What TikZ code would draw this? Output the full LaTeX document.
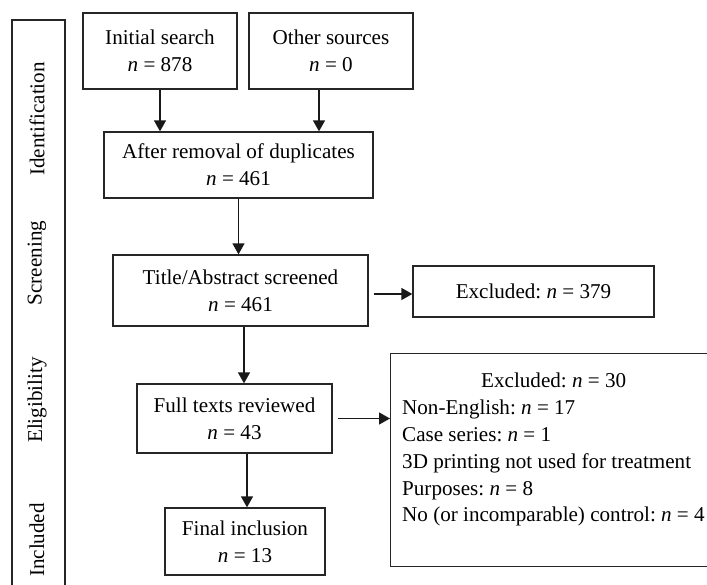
\documentclass[tikz,border=0pt]{standalone}
\usepackage{fontspec}
\setmainfont{Liberation Serif}
\usetikzlibrary{arrows.meta,positioning}
\frenchspacing

\begin{document}
\begin{tikzpicture}[x=1pt,y=-1pt,
    box/.style={draw=black!85,line width=1.3pt,align=center,inner sep=0pt,font=\fontsize{21.1}{27}\selectfont},
    stage/.style={rotate=90,inner sep=0pt,font=\fontsize{21.1}{25}\selectfont},
    arrow/.style={-{Triangle[length=11pt,width=12pt]},line width=1.3pt,draw=black!90}
  ]
    \clip (0,0) rectangle (707,584);
    % phase column on the left
    \draw[draw=black!85,line width=1.3pt] (12,600) |- (65,20) -- (65,600);
    \node[stage] (ident) at (37,119) {Identification};
    \node[stage] (screen) at (37,263) {Screening};
    \node[stage] (elig) at (37,400) {Eligibility};
    \node[stage] (incl) at (37,540) {Included};

    \node[box,minimum width=154pt,minimum height=76pt] (init) at (160,51) {Initial search\\\textit{n} = 878};
    \node[box,minimum width=164pt,minimum height=76pt] (other) at (331,51) {Other sources\\\textit{n} = 0};
    \node[box,minimum width=269pt,minimum height=66pt] (after) at (238.5,165) {After removal of duplicates\\\textit{n} = 461};
    \node[box,minimum width=255pt,minimum height=71pt] (title) at (240.5,290.5) {Title/Abstract screened\\\textit{n} = 461};
    \node[box,minimum width=241pt,minimum height=51pt] (excl1) at (533.5,291.5) {Excluded: \textit{n} = 379};
    \node[box,minimum width=195pt,minimum height=69pt] (full) at (234.5,418.5) {Full texts reviewed\\\textit{n} = 43};
    \node[box,minimum width=160pt,minimum height=67pt] (final) at (245,541.5) {Final inclusion\\\textit{n} = 13};
    \node[box,minimum width=330pt,minimum height=213pt,anchor=north west] (excl2) at (390,353) {};
    \node[inner sep=0pt,anchor=north west,align=left,font=\fontsize{21.1}{26.8}\selectfont] (excl2text) at (402,373)
      {\makebox[303pt]{Excluded: \textit{n} = 30}\\
       Non-English: \textit{n} = 17\\
       Case series: \textit{n} = 1\\
       3D printing not used for treatment\\
       Purposes: \textit{n} = 8\\
       No (or incomparable) control: \textit{n} = 4};

    \coordinate (otherout) at ([xshift=-12pt]other.south);
    \coordinate (titleout) at ([xshift=3.5pt]title.south);
    \coordinate (finalin) at ([xshift=2pt]final.north);
    \coordinate (exin) at ([yshift=-3.5pt]title.east);
    \draw[arrow] (init.south) -- (init.south |- after.north);
    \draw[arrow] (otherout) -- (otherout |- after.north);
    \draw[arrow] (after.south) -- (after.south |- title.north);
    \draw[arrow] (titleout) -- (titleout |- full.north);
    \draw[arrow] (finalin |- full.south) -- (finalin);
    \draw[arrow,shorten <=5pt] (exin) -- (exin -| excl1.west);
    \draw[arrow,shorten <=5pt] (full.east) -- (full.east -| excl2.west);
  \end{tikzpicture}
\end{document}
